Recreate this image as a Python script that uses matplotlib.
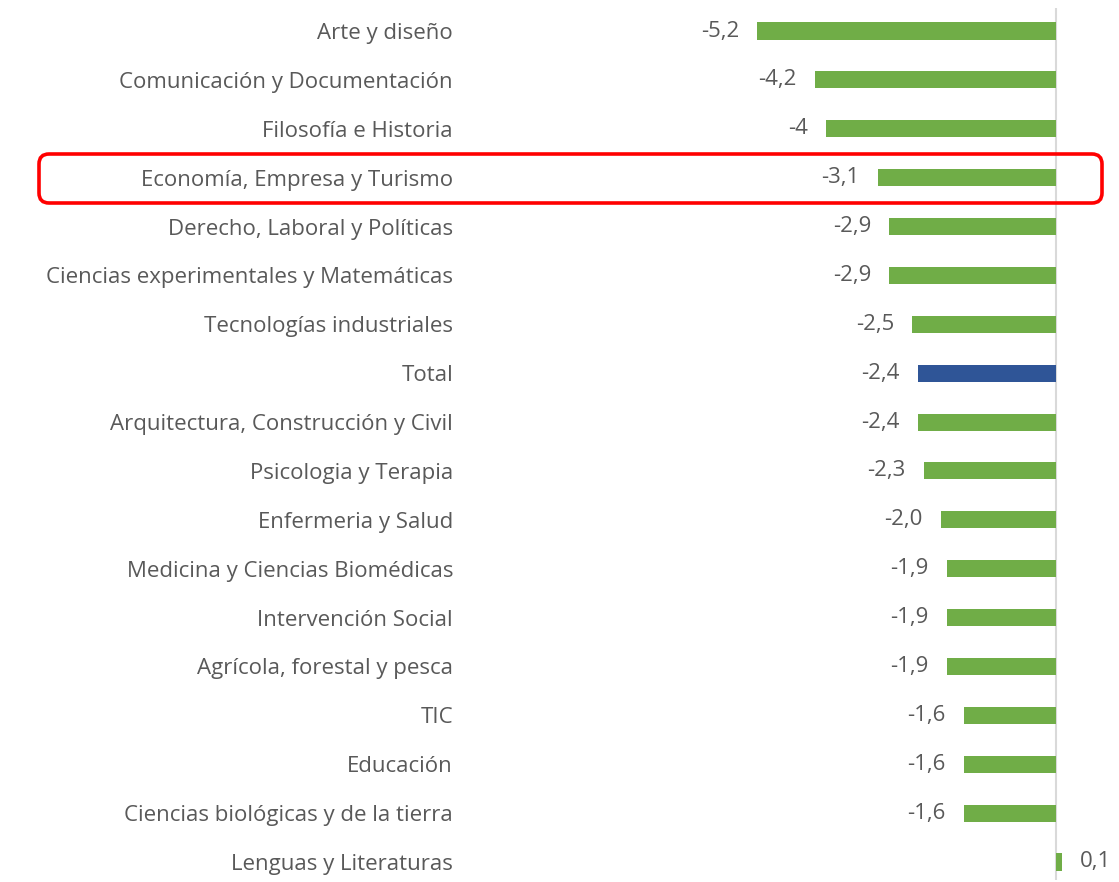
import matplotlib
matplotlib.use("Agg")
import matplotlib.pyplot as plt
from matplotlib.patches import FancyBboxPatch

categories = [
    "Arte y diseño",
    "Comunicación y Documentación",
    "Filosofía e Historia",
    "Economía, Empresa y Turismo",
    "Derecho, Laboral y Políticas",
    "Ciencias experimentales y Matemáticas",
    "Tecnologías industriales",
    "Total",
    "Arquitectura, Construcción y Civil",
    "Psicologia y Terapia",
    "Enfermeria y Salud",
    "Medicina y Ciencias Biomédicas",
    "Intervención Social",
    "Agrícola, forestal y pesca",
    "TIC",
    "Educación",
    "Ciencias biológicas y de la tierra",
    "Lenguas y Literaturas",
]
values = [-5.2, -4.2, -4.0, -3.1, -2.9, -2.9, -2.5, -2.4, -2.4, -2.3,
          -2.0, -1.9, -1.9, -1.9, -1.6, -1.6, -1.6, 0.1]
value_labels = ["-5,2", "-4,2", "-4", "-3,1", "-2,9", "-2,9", "-2,5", "-2,4",
                "-2,4", "-2,3", "-2,0", "-1,9", "-1,9", "-1,9", "-1,6", "-1,6",
                "-1,6", "0,1"]
highlight = "Economía, Empresa y Turismo"

GREEN = "#70AD47"
BLUE = "#2F5597"
TEXT = "#595959"
FONT = "Open Sans"
FS = 16

W, H = 1119, 882
fig = plt.figure(figsize=(W / 100, H / 100), dpi=100)

ax_left, ax_right = 460, 1119
ax_top, ax_bot = 8, 880
ax = fig.add_axes([ax_left / W, 1 - ax_bot / H, (ax_right - ax_left) / W, (ax_bot - ax_top) / H])

colors = [BLUE if c == "Total" else GREEN for c in categories]
ypos = list(range(len(categories)))
ax.barh(ypos, values, height=0.35, color=colors)

px_per_unit = 57.5
zero_px = 1056
ax.set_xlim(-(zero_px - ax_left) / px_per_unit, (ax_right - zero_px) / px_per_unit)
step = (862 - 31) / (len(categories) - 1)
ax.set_ylim(len(categories) - 1 + (ax_bot - 862) / step, -(31 - ax_top) / step)

ax.axvline(0, color="#D9D9D9", lw=1.5, zorder=0)

ax.set_yticks(ypos)
ax.set_yticklabels(categories, fontsize=FS, color=TEXT, family=FONT)
ax.tick_params(axis="y", length=0, pad=5)
ax.set_xticks([])
for s in ax.spines.values():
    s.set_visible(False)

for y, v, lab in zip(ypos, values, value_labels):
    off = 13 if v >= 0 else -13
    ax.annotate(lab, xy=(v, y), xytext=(off, 0), textcoords="offset points",
                ha="left" if v >= 0 else "right", va="center",
                fontsize=FS, color=TEXT, family=FONT)

# highlight box
box = FancyBboxPatch((0.39, (H - 203) / 100), (1102 - 39) / 100, 0.49,
                     boxstyle="round,pad=0,rounding_size=0.1",
                     transform=fig.dpi_scale_trans, fill=False,
                     edgecolor="#FF0000", linewidth=2.6, zorder=10)
fig.patches.append(box)

fig.savefig("out.png", dpi=100)
